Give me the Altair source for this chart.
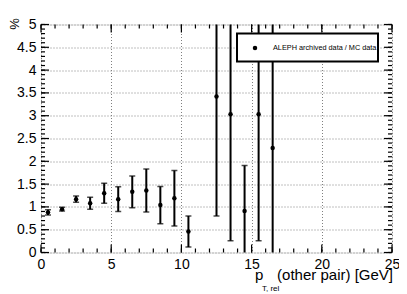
import altair as alt
import pandas as pd

# ---- data ----
bin_center = [0.5, 1.5, 2.5, 3.5, 4.5, 5.5, 6.5, 7.5, 8.5, 9.5, 10.5, 12.5, 13.5, 14.5, 15.5, 16.5]
ratio = [0.88, 0.95, 1.17, 1.08, 1.30, 1.17, 1.33, 1.36, 1.04, 1.19, 0.46, 3.42, 3.03, 0.91, 3.03, 2.29]
error = [0.06, 0.04, 0.07, 0.13, 0.22, 0.27, 0.35, 0.47, 0.41, 0.61, 0.34, 2.62, 2.77, 1.00, 2.77, 3.20]

x_major = [0, 5, 10, 15, 20, 25]
x_minor = list(range(0, 26))
y_major = [0, 0.5, 1, 1.5, 2, 2.5, 3, 3.5, 4, 4.5, 5]
y_minor = [round(i * 0.1, 1) for i in range(51)]

legend_label = "ALEPH archived data / MC data"
x_title_main = "p"
x_title_sub = "T, rel"
x_title_rest = "(other pair) [GeV]"
y_title = "%"

FONT = "Liberation Sans"
W, H = 351, 228
X_MIN, X_MAX, Y_MIN, Y_MAX = 0, 25, 0, 5
MAJ, MIN = 8, 4  # frame tick lengths in pixels
XU = (X_MAX - X_MIN) / W  # data units per pixel along x
YU = (Y_MAX - Y_MIN) / H  # data units per pixel along y

# one table, built from the arrays above: data points + frame ticks
rows = [{"kind": "pt", "x": c, "y": r, "lo": r - e, "hi": r + e}
        for c, r, e in zip(bin_center, ratio, error)]
for vals, ln in ((y_minor, MIN), (y_major, MAJ)):
    rows += [{"kind": "ytick", "v": v, "a0": X_MIN, "a1": X_MIN + ln * XU} for v in vals]
    rows += [{"kind": "ytick", "v": v, "a0": X_MAX - ln * XU, "a1": X_MAX} for v in vals]
for vals, ln in ((x_minor, MIN), (x_major, MAJ)):
    rows += [{"kind": "xtick", "v": v, "a0": Y_MIN, "a1": Y_MIN + ln * YU} for v in vals]
    rows += [{"kind": "xtick", "v": v, "a0": Y_MAX - ln * YU, "a1": Y_MAX} for v in vals]
rows += [{"kind": "label", "t": legend_label}]
table = pd.DataFrame(rows)

xs = alt.Scale(domain=[X_MIN, X_MAX], nice=False, zero=False)
ys = alt.Scale(domain=[Y_MIN, Y_MAX], nice=False, zero=False)

main_x_axis = alt.Axis(orient="bottom", values=x_major, format="~g", ticks=False, tickSize=0,
                       domain=False, grid=True, gridDash=[1, 2], gridColor="#808080",
                       gridWidth=1, labelFontSize=14, labelColor="black", labelPadding=5,
                       labelFlush=False, title=None)
main_y_axis = alt.Axis(orient="left", values=y_major, format="~g", ticks=False, tickSize=0,
                       domain=False, grid=True, gridDash=[1, 2], gridColor="#808080",
                       gridWidth=1, labelFontSize=14, labelColor="black", labelPadding=5,
                       labelFlush=False, title=y_title, titleFontSize=13, titleFontWeight="normal",
                       titleColor="black", titleAngle=-90, titleX=-27, titleY=-1,
                       titleAlign="center", titleBaseline="middle")


def X(field):
    return alt.X(field, type="quantitative", scale=xs, axis=main_x_axis)


def Y(field):
    return alt.Y(field, type="quantitative", scale=ys, axis=main_y_axis)


base = alt.Chart(table)
pts = base.transform_filter(alt.datum.kind == "pt")

bars = pts.mark_rule(color="black", strokeWidth=2, clip=True).encode(
    x=X("x"), y=Y("lo"), y2="hi")
cap_lo = pts.mark_tick(color="black", orient="horizontal", size=6, thickness=1.5,
                       clip=True).encode(x=X("x"), y=Y("lo"))
cap_hi = pts.mark_tick(color="black", orient="horizontal", size=6, thickness=1.5,
                       clip=True).encode(x=X("x"), y=Y("hi"))
points = pts.mark_circle(color="black", size=20, opacity=1).encode(x=X("x"), y=Y("y"))

# inward-pointing frame ticks (ROOT style) on all four sides
yticks = base.transform_filter(alt.datum.kind == "ytick").mark_rule(
    color="black", strokeWidth=1.2).encode(y=Y("v"), x=X("a0"), x2="a1")
xticks = base.transform_filter(alt.datum.kind == "xtick").mark_rule(
    color="black", strokeWidth=1.2).encode(x=X("v"), y=Y("a0"), y2="a1")

# legend box
lab = base.transform_filter(alt.datum.kind == "label")
leg_box = lab.mark_rect(fill="white", stroke="black", strokeWidth=2).encode(
    x=alt.value(196), x2=alt.value(337), y=alt.value(9), y2=alt.value(37))
leg_pt = lab.mark_circle(color="black", size=20, opacity=1).encode(
    x=alt.value(214), y=alt.value(23.5))
leg_txt = lab.mark_text(font=FONT, fontSize=7.3, align="left", baseline="middle",
                        color="black").encode(text="t:N", x=alt.value(232), y=alt.value(23.5))

# x-axis title with subscript
xt_main = lab.mark_text(font=FONT, fontSize=15, align="left", baseline="alphabetic",
                        color="black", text=x_title_main).encode(
    x=alt.value(214), y=alt.value(255.5))
xt_sub = lab.mark_text(font=FONT, fontSize=8, align="left", baseline="alphabetic",
                       color="black", text=x_title_sub).encode(
    x=alt.value(221), y=alt.value(266))
xt_rest = lab.mark_text(font=FONT, fontSize=15, align="right", baseline="alphabetic",
                        color="black", text=x_title_rest).encode(
    x=alt.value(W + 1), y=alt.value(255.5))

chart = alt.layer(
    bars, cap_lo, cap_hi, points,
    yticks, xticks,
    leg_box, leg_pt, leg_txt,
    xt_main, xt_sub, xt_rest,
).properties(
    width=W, height=H,
    autosize=alt.AutoSizeParams(type="none"),
    padding={"left": 33, "top": 16.5, "right": 7, "bottom": 39.5},
    background="white",
).configure_view(stroke="black", strokeWidth=2).configure(font=FONT)

chart.save("out.html", embed_options={"renderer": "svg", "actions": False})
